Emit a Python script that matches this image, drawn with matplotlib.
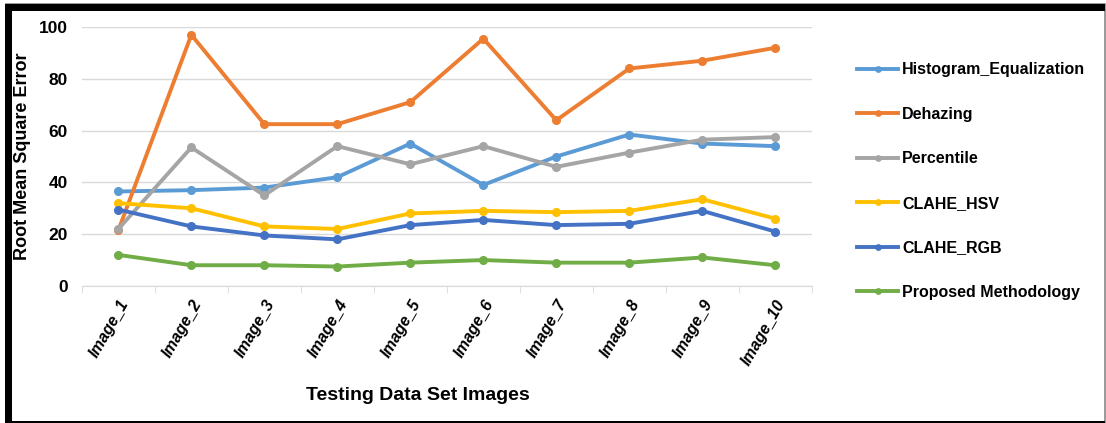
import numpy as np
import matplotlib.pyplot as plt
from matplotlib.patches import Rectangle

# data
images = ['Image_1', 'Image_2', 'Image_3', 'Image_4', 'Image_5',
          'Image_6', 'Image_7', 'Image_8', 'Image_9', 'Image_10']
hist_eq = [36.5, 37, 38, 42, 55, 39, 50, 58.5, 55, 54]
dehazing = [21.5, 97, 62.5, 62.5, 71, 95.5, 64, 84, 87, 92]
percentile = [22, 53.5, 35, 54, 47, 54, 46, 51.5, 56.5, 57.5]
clahe_hsv = [32, 30, 23, 22, 28, 29, 28.5, 29, 33.5, 26]
clahe_rgb = [29.5, 23, 19.5, 18, 23.5, 25.5, 23.5, 24, 29, 21]
proposed = [12, 8, 8, 7.5, 9, 10, 9, 9, 11, 8]

series = [
    ('Histogram_Equalization', hist_eq, '#5B9BD5'),
    ('Dehazing', dehazing, '#ED7D31'),
    ('Percentile', percentile, '#A5A5A5'),
    ('CLAHE_HSV', clahe_hsv, '#FFC000'),
    ('CLAHE_RGB', clahe_rgb, '#4472C4'),
    ('Proposed Methodology', proposed, '#70AD47'),
]

fam = ['Liberation Sans', 'DejaVu Sans']

fig = plt.figure(figsize=(11.06, 4.23), dpi=100)
ax = fig.add_axes([0.074, 0.324, 0.66, 0.612])

x = np.arange(len(images))
for name, vals, col in series:
    ax.plot(x, vals, '-o', color=col, lw=2.8, ms=5.5, label=name)

ax.set_xlim(-0.5, len(images) - 0.5)
ax.set_ylim(0, 100)
ax.set_yticks(np.arange(0, 101, 20))
ax.grid(axis='y', color='#d9d9d9', lw=1)
ax.set_axisbelow(True)
for s in ['top', 'right', 'left']:
    ax.spines[s].set_visible(False)
ax.spines['bottom'].set_color('#d9d9d9')

ax.set_xticks(x)
ax.set_xticklabels(images, rotation=60, ha='right', rotation_mode='anchor',
                   family=fam, fontweight='bold', fontsize=11.5, style='italic')
ax.set_xticks(np.arange(-0.5, len(images)), minor=True)
ax.tick_params(axis='x', which='major', length=0, pad=8)
ax.tick_params(axis='x', which='minor', length=5, color='#d9d9d9')
ax.tick_params(axis='y', length=0, pad=10)
for lab in ax.get_yticklabels():
    lab.set_family(fam)
    lab.set_fontweight('bold')
    lab.set_fontsize(12.5)

ax.set_ylabel('Root Mean Square Error', fontsize=13, fontweight='bold',
              family=fam, labelpad=6)
fig.text(0.378, 0.065, 'Testing Data Set Images', ha='center', va='center',
         fontsize=14, fontweight='bold', family=fam)

leg = ax.legend(loc='upper left', bbox_to_anchor=(1.042, 0.92), frameon=False,
                prop={'family': fam, 'weight': 'bold', 'size': 11.5},
                labelspacing=1.85, handlelength=2.6, handletextpad=0.25,
                markerscale=0.7)

# frame around the picture
fig.patches.append(Rectangle((0.005, 0.0), 0.994, 0.99, transform=fig.transFigure,
                             fill=False, edgecolor='#888888', lw=1.2))
fig.patches.append(Rectangle((0.0045, 0.974), 0.995, 0.017, transform=fig.transFigure,
                             color='black', lw=0))
fig.patches.append(Rectangle((0.0045, 0.0), 0.0065, 0.99, transform=fig.transFigure,
                             color='black', lw=0))
fig.patches.append(Rectangle((0.0045, 0.0), 0.995, 0.005, transform=fig.transFigure,
                             color='black', lw=0))

fig.savefig('out.png', dpi=100)
